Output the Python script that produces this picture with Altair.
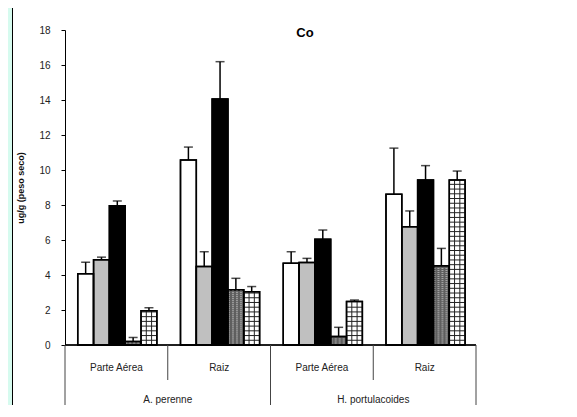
import altair as alt
import pandas as pd

# ---- data ----
groups = ["A. perenne", "A. perenne", "H. portulacoides", "H. portulacoides"]
parts = ["Parte Aérea", "Raiz", "Parte Aérea", "Raiz"]
series = ["s1", "s2", "s3", "s4", "s5"]
values = [
    [4.07, 4.87, 7.96, 0.20, 1.96],
    [10.57, 4.48, 14.06, 3.16, 3.05],
    [4.67, 4.72, 6.04, 0.48, 2.48],
    [8.62, 6.76, 9.43, 4.53, 9.43],
]
errors = [
    [0.66, 0.15, 0.27, 0.23, 0.17],
    [0.74, 0.85, 2.13, 0.65, 0.29],
    [0.66, 0.23, 0.53, 0.53, 0.09],
    [2.63, 0.90, 0.82, 0.99, 0.51],
]
fills = ["#ffffff", "#c0c0c0", "#000000", "#5e5e5e", "#ffffff"]
y_ticks = [0, 2, 4, 6, 8, 10, 12, 14, 16, 18]

# ---- layout (slot units on a linear x scale) ----
OFF, BW = 0.124, 0.154

rows = []
for i in range(len(parts)):
    for j, s in enumerate(series):
        x0 = i + OFF + j * BW
        rows.append(dict(slot=i, series=s, x=x0, x2=x0 + BW, xc=x0 + BW / 2,
                         v=values[i][j], top=values[i][j] + errors[i][j],
                         fill=fills[j]))
df = pd.DataFrame(rows)

# grid pattern lines (5th series) and dotted texture (4th series)
hl, vl, dots = [], [], []
for r in rows:
    if r["series"] == "s5":
        k = 1
        while k * 0.27 < r["v"] - 0.05:
            hl.append(dict(x=r["x"], x2=r["x2"], y=k * 0.27))
            k += 1
        for f in (1 / 3, 2 / 3):
            vl.append(dict(x=r["x"] + f * BW, v=r["v"]))
    if r["series"] == "s4":
        k = 1
        while k * 0.115 < r["v"] - 0.05:
            dots.append(dict(x=r["x"], x2=r["x2"], y=k * 0.115))
            k += 1
hdf = pd.DataFrame(hl)
vdf = pd.DataFrame(vl)
ddf = pd.DataFrame(dots)

sub_df = pd.DataFrame(dict(xc=[i + 0.5 for i in range(4)], label=parts))
grp_df = pd.DataFrame(dict(xc=[1.0, 3.0], label=["A. perenne", "H. portulacoides"]))
short_div = pd.DataFrame(dict(x=[1, 3]))
long_div = pd.DataFrame(dict(x=[0, 2, 4]))

H = 315
xs = alt.Scale(domain=[0, 4], nice=False, zero=False)
ys = alt.Scale(domain=[0, 18], nice=False)
FONT = "Liberation Sans"

Y_AXIS = alt.Axis(values=y_ticks, title="ug/g (peso seco)", grid=False,
                  labelOverlap=False, labelBound=False, labelFlush=False,
                  domainColor="black", tickColor="black", tickSize=4,
                  labelFont=FONT, labelFontSize=10, labelColor="#222",
                  labelPadding=11, titleFont=FONT, titleFontSize=9,
                  titleFontWeight="bold", titleColor="#111",
                  titlePadding=13)


def Y(field):
    return alt.Y(field, scale=ys, axis=Y_AXIS)


def X(field):
    return alt.X(field, scale=xs, axis=None)


base = alt.Chart(df)

frame_fill = alt.Chart(pd.DataFrame({"a": [0]})).mark_rect(color="#d6fbef").encode(
    x=alt.value(-57), x2=alt.value(-53), y=alt.value(-22), y2=alt.value(H + 60))
frame_line = alt.Chart(pd.DataFrame({"a": [0]})).mark_rule(color="#000000", strokeWidth=1).encode(
    x=alt.value(-52.5), y=alt.value(-22), y2=alt.value(H + 60))

err_line = base.mark_rule(color="black", strokeWidth=1.5).encode(
    x=X("xc:Q"), y=Y("v:Q"), y2="top:Q")
err_cap = base.mark_tick(orient="horizontal", color="black", size=9, thickness=1.5).encode(
    x=X("xc:Q"), y=Y("top:Q"))

bars = base.mark_rect(stroke="black", strokeWidth=1.5).encode(
    x=X("x:Q"), x2="x2:Q",
    y=Y("v:Q"), y2=alt.datum(0),
    fill=alt.Fill("fill:N", scale=None, legend=None))

hlines = alt.Chart(hdf).mark_rule(color="#222", strokeWidth=1).encode(
    x=X("x:Q"), x2="x2:Q", y=Y("y:Q"))
vlines = alt.Chart(vdf).mark_rule(color="#222", strokeWidth=1).encode(
    x=X("x:Q"), y=Y("v:Q"), y2=alt.datum(0))
dlines = alt.Chart(ddf).mark_rule(color="#ffffff", strokeWidth=0.8,
                                  strokeDash=[2, 2], opacity=0.6).encode(
    x=X("x:Q"), x2="x2:Q", y=Y("y:Q"))

bars_outline = base.mark_rect(stroke="black", strokeWidth=1.5, fillOpacity=0).encode(
    x=X("x:Q"), x2="x2:Q",
    y=Y("v:Q"), y2=alt.datum(0))

x_axis = alt.Chart(long_div).mark_rule(color="black", strokeWidth=1).encode(
    x=alt.value(0), x2=alt.value(411), y=alt.value(H))
short_lines = alt.Chart(short_div).mark_rule(color="#444", strokeWidth=1).encode(
    x=X("x:Q"), y=alt.value(H), y2=alt.value(H + 35))
long_lines = alt.Chart(long_div).mark_rule(color="#444", strokeWidth=1).encode(
    x=X("x:Q"), y=alt.value(H), y2=alt.value(H + 60))

sub_text = alt.Chart(sub_df).mark_text(font=FONT, fontSize=10, color="#222").encode(
    x=X("xc:Q"), y=alt.value(H + 23), text="label:N")
grp_text = alt.Chart(grp_df).mark_text(font=FONT, fontSize=10, color="#222").encode(
    x=X("xc:Q"), y=alt.value(H + 55), text="label:N")

title = alt.Chart(pd.DataFrame({"t": ["Co"]})).mark_text(
    font=FONT, fontSize=13, fontWeight="bold", color="black").encode(
    x=alt.value(240), y=alt.value(3), text="t:N")

chart = alt.layer(
    frame_fill, frame_line, err_line, err_cap, bars, hlines, vlines, dlines,
    bars_outline, x_axis, short_lines, long_lines, sub_text, grp_text, title
).properties(
    width=411, height=H,
    padding={"left": 57, "top": 22, "right": 90, "bottom": 60},
    autosize=alt.AutoSizeParams(type="none"),
    background="white",
).configure_view(stroke=None)

chart.save("out.html", embed_options={"renderer": "svg", "actions": False})
